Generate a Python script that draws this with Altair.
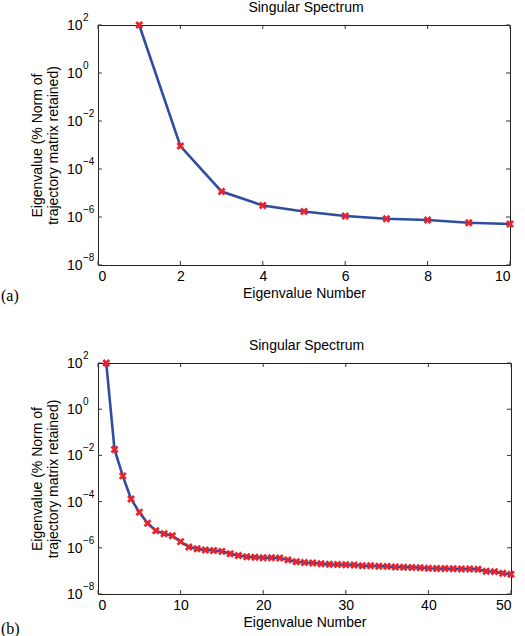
import altair as alt
import pandas as pd

# ---- data -------------------------------------------------------------
eig_num_a = list(range(1, 11))
eig_val_a = [100, 9.0e-4, 1.15e-5, 3.0e-6, 1.7e-6, 1.1e-6, 8.5e-7, 7.5e-7, 5.8e-7, 5.1e-7]

eig_num_b = list(range(1, 51))
eig_val_b = [
    100, 1.8e-2, 1.3e-3, 1.3e-4, 3.5e-5, 1.15e-5, 5.5e-6, 4.1e-6, 3.3e-6, 1.85e-6,
    1.08e-6, 9.1e-7, 8.1e-7, 7.6e-7, 7.0e-7, 5.5e-7, 4.6e-7, 4.1e-7, 3.9e-7, 3.7e-7,
    3.7e-7, 3.6e-7, 3.0e-7, 2.5e-7, 2.3e-7, 2.2e-7, 2.05e-7, 1.92e-7, 1.9e-7, 1.85e-7,
    1.8e-7, 1.68e-7, 1.66e-7, 1.6e-7, 1.57e-7, 1.48e-7, 1.45e-7, 1.4e-7, 1.38e-7, 1.3e-7,
    1.27e-7, 1.26e-7, 1.23e-7, 1.21e-7, 1.2e-7, 1.17e-7, 9.6e-8, 9.3e-8, 7.9e-8, 7.1e-8,
]

x_ticks_a = [0, 2, 4, 6, 8, 10]
x_ticks_b = [0, 10, 20, 30, 40, 50]
y_ticks = [1e-8, 1e-6, 1e-4, 1e-2, 1, 1e2]
y_tick_base = ["10"] * 6
y_tick_exp = ["−8", "−6", "−4", "−2", "0", "2"]
panel_tags = ["(a)", "(b)"]

chart_title = "Singular Spectrum"
x_title = "Eigenvalue Number"
y_title = ["Eigenvalue (% Norm of", "trajectory matrix retained)"]

LINE_BLUE = "#2f4c9f"
MARK_RED = "#e8232b"
X_SHAPE = "M-1,-1L1,1M-1,1L1,-1"
SANS = "Liberation Sans"


def panel(nums, vals, x_ticks, x_max, tag, w, h, tag_dx, tag_dy):
    df = pd.DataFrame({"n": nums, "v": vals})
    xs = alt.Scale(domain=[0, x_max], nice=False, zero=False)
    ys = alt.Scale(type="log", domain=[1e-8, 1e2], nice=False)

    x_enc = alt.X(
        "n:Q", scale=xs,
        axis=alt.Axis(values=x_ticks, title=x_title, labelPadding=4, titlePadding=3),
    )
    # y labels are drawn as "10" + raised exponent text below
    y_enc = alt.Y(
        "v:Q", scale=ys,
        axis=alt.Axis(values=y_ticks, labels=False, title=y_title, titlePadding=38),
    )

    line = alt.Chart(df).mark_line(color=LINE_BLUE, strokeWidth=2.6).encode(x=x_enc, y=y_enc)
    pts = alt.Chart(df).mark_point(
        shape=X_SHAPE, size=36, color=MARK_RED, strokeWidth=2.8, filled=False, opacity=1
    ).encode(x="n:Q", y="v:Q")

    # inward tick marks on all four sides of the box
    xt = pd.DataFrame({"n": x_ticks})
    yt = pd.DataFrame({"v": y_ticks, "base": y_tick_base, "exp": y_tick_exp})
    tick_style = dict(color="#333333", strokeWidth=1)
    top_t = alt.Chart(xt).mark_rule(**tick_style).encode(
        x=alt.X("n:Q", scale=xs), y=alt.value(0), y2=alt.value(4))
    bot_t = alt.Chart(xt).mark_rule(**tick_style).encode(
        x=alt.X("n:Q", scale=xs), y=alt.value(h - 4), y2=alt.value(h))
    left_t = alt.Chart(yt).mark_rule(**tick_style).encode(
        y=alt.Y("v:Q", scale=ys), x=alt.value(0), x2=alt.value(4))
    right_t = alt.Chart(yt).mark_rule(**tick_style).encode(
        y=alt.Y("v:Q", scale=ys), x=alt.value(w - 4), x2=alt.value(w))

    # power-of-ten tick labels
    lab_base = alt.Chart(yt).mark_text(
        align="left", baseline="middle", font=SANS, fontSize=14, color="black", dy=1
    ).encode(y=alt.Y("v:Q", scale=ys), x=alt.value(-31), text="base:N")
    lab_exp = alt.Chart(yt).mark_text(
        align="left", baseline="middle", font=SANS, fontSize=10, color="black", dy=-7
    ).encode(y=alt.Y("v:Q", scale=ys), x=alt.value(-15), text="exp:N")

    # panel title and the (a)/(b) tag
    ttl = alt.Chart(pd.DataFrame({"t": [chart_title]})).mark_text(
        align="center", baseline="middle", font=SANS, fontSize=14, color="black"
    ).encode(x=alt.value(w / 2 + 2), y=alt.value(-17), text="t:N")
    tag_txt = alt.Chart(pd.DataFrame({"tag": [tag]})).mark_text(
        align="left", baseline="middle", font="Liberation Serif", fontSize=16, color="black"
    ).encode(x=alt.value(tag_dx), y=alt.value(tag_dy), text="tag:N")

    return alt.layer(
        line, pts, top_t, bot_t, left_t, right_t, lab_base, lab_exp, ttl, tag_txt
    ).properties(width=w, height=h)


top = panel(eig_num_a, eig_val_a, x_ticks_a, 10, panel_tags[0], 412, 240, -97, 271)
bottom = panel(eig_num_b, eig_val_b, x_ticks_b, 50, panel_tags[1], 413, 231, -97, 266)

chart = alt.vconcat(top, bottom, spacing=33).properties(
    padding={"left": 0, "top": 0, "right": 0, "bottom": 0},
    background="white",
).configure_view(
    stroke="#222222", strokeWidth=1
).configure_axis(
    grid=False, ticks=False, domain=False,
    labelFont=SANS, labelFontSize=14, labelColor="black",
    titleFont=SANS, titleFontSize=14, titleFontWeight="normal", titleColor="black",
)

chart.save("out.html", embed_options={"renderer": "svg", "actions": False})
